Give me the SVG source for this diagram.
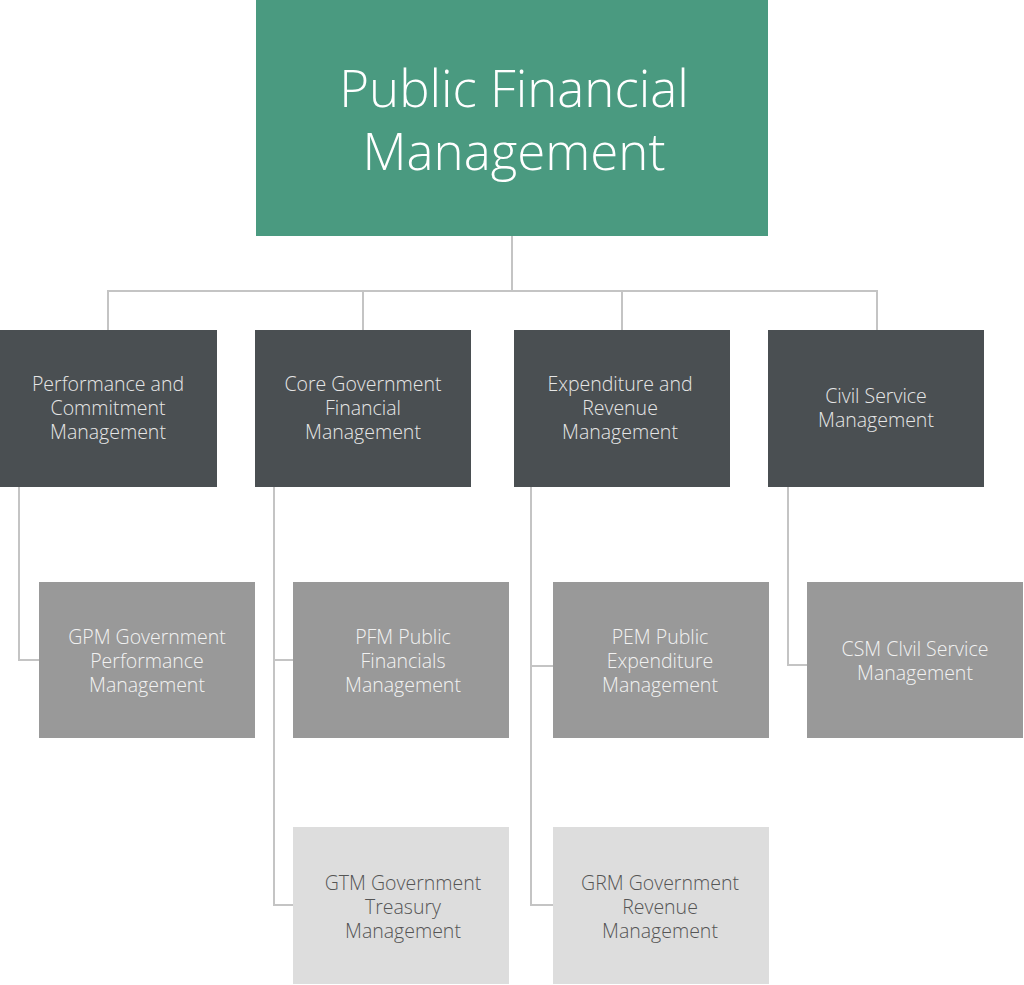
<svg xmlns="http://www.w3.org/2000/svg" width="1024" height="985" viewBox="0 0 1024 985">
<style>
text{font-family:"Open Sans","Liberation Sans",sans-serif;font-weight:300;text-anchor:middle}
.top{fill:#4a9a80}
.l2{fill:#4a4f52}
.l3{fill:#999999}
.l4{fill:#dddddd}
.t1{fill:#ffffff;font-size:51px}
.t2{fill:#e6e6e6;font-size:19.5px}
.t3{fill:#f2f2f2;font-size:19.5px}
.t4{fill:#555555;font-size:19.5px}
.conn{fill:none;stroke:#c4c4c4;stroke-width:2}
</style>
<rect width="1024" height="985" fill="#ffffff"/>
<g id="connectors" class="conn">
<path d="M512 236V291M108 330V291H877V330M363 291V330M622 291V330"/>
<path d="M19 487V660H39"/>
<path d="M274 487V905H293M274 660H293"/>
<path d="M531 487V905H553M531 666H553"/>
<path d="M788 487V665H807"/>
</g>
<g id="pfm">
<rect class="top" x="256" y="0" width="512" height="236"/>
<text class="t1" x="514" y="107">Public Financial</text>
<text class="t1" x="514" y="170">Management</text>
</g>
<g id="pcm">
<rect class="l2" x="0" y="330" width="217" height="157"/>
<text class="t2" x="108" y="391">Performance and</text>
<text class="t2" x="108" y="415">Commitment</text>
<text class="t2" x="108" y="439">Management</text>
</g>
<g id="cgfm">
<rect class="l2" x="255" y="330" width="216" height="157"/>
<text class="t2" x="363" y="391">Core Government</text>
<text class="t2" x="363" y="415">Financial</text>
<text class="t2" x="363" y="439">Management</text>
</g>
<g id="erm">
<rect class="l2" x="514" y="330" width="216" height="157"/>
<text class="t2" x="620" y="391">Expenditure and</text>
<text class="t2" x="620" y="415">Revenue</text>
<text class="t2" x="620" y="439">Management</text>
</g>
<g id="csmgmt">
<rect class="l2" x="768" y="330" width="216" height="157"/>
<text class="t2" x="876" y="403">Civil Service</text>
<text class="t2" x="876" y="427">Management</text>
</g>
<g id="gpm">
<rect class="l3" x="39" y="582" width="216" height="156"/>
<text class="t3" x="147" y="644">GPM Government</text>
<text class="t3" x="147" y="668">Performance</text>
<text class="t3" x="147" y="692">Management</text>
</g>
<g id="pfmpub">
<rect class="l3" x="293" y="582" width="216" height="156"/>
<text class="t3" x="403" y="644">PFM Public</text>
<text class="t3" x="403" y="668">Financials</text>
<text class="t3" x="403" y="692">Management</text>
</g>
<g id="pem">
<rect class="l3" x="553" y="582" width="216" height="156"/>
<text class="t3" x="660" y="644">PEM Public</text>
<text class="t3" x="660" y="668">Expenditure</text>
<text class="t3" x="660" y="692">Management</text>
</g>
<g id="csm">
<rect class="l3" x="807" y="582" width="216" height="156"/>
<text class="t3" x="915" y="656">CSM CIvil Service</text>
<text class="t3" x="915" y="680">Management</text>
</g>
<g id="gtm">
<rect class="l4" x="293" y="827" width="216" height="157"/>
<text class="t4" x="403" y="890">GTM Government</text>
<text class="t4" x="403" y="914">Treasury</text>
<text class="t4" x="403" y="938">Management</text>
</g>
<g id="grm">
<rect class="l4" x="553" y="827" width="216" height="157"/>
<text class="t4" x="660" y="890">GRM Government</text>
<text class="t4" x="660" y="914">Revenue</text>
<text class="t4" x="660" y="938">Management</text>
</g>
</svg>
